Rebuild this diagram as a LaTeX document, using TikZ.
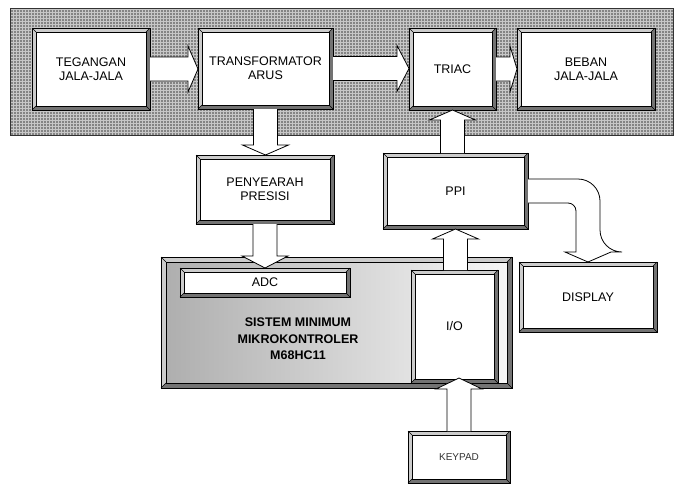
\documentclass[tikz,border=0pt]{standalone}
\usepackage{fontspec}
\setmainfont{Liberation Sans}
\usetikzlibrary{calc,patterns.meta}

\definecolor{bevlight}{gray}{0.8}
\definecolor{bevdark}{gray}{0.45}

% raised frame round a named box, #2 = frame width
\newcommand{\bevelframe}[2]{%
  \fill[bevlight] (#1.north west) -- (#1.north east) -- ($(#1.north east)+(-#2,#2)$)
    -- ($(#1.north west)+(#2,#2)$) -- ($(#1.south west)+(#2,-#2)$) -- (#1.south west) -- cycle;
  \fill[bevdark] (#1.south east) -- (#1.south west) -- ($(#1.south west)+(#2,-#2)$)
    -- ($(#1.south east)+(-#2,-#2)$) -- ($(#1.north east)+(-#2,#2)$) -- (#1.north east) -- cycle;
  \draw[bevline] (#1.north west) rectangle (#1.south east);
  \draw[bevline] ($(#1.north west)+(#2,#2)$) rectangle ($(#1.south east)+(-#2,-#2)$);
  \draw[bevline] (#1.north west) -- ++(#2,#2) (#1.north east) -- ++(-#2,#2)
    (#1.south west) -- ++(#2,-#2) (#1.south east) -- ++(-#2,-#2);
}
% block arrows: start, tip, head length
\newcommand{\arrowright}[3]{%
  \filldraw[blockarrow] ($(#1)+(0,-12)$) -- ($(#2)+(-#3,-12)$) -- ($(#2)+(-#3,-23)$) -- (#2)
    -- ($(#2)+(-#3,23)$) -- ($(#2)+(-#3,12)$) -- ($(#1)+(0,12)$);
}
\newcommand{\arrowdown}[3]{%
  \filldraw[blockarrow] ($(#1)+(-12,0)$) -- ($(#2)+(-12,-#3)$) -- ($(#2)+(-23,-#3)$) -- (#2)
    -- ($(#2)+(23,-#3)$) -- ($(#2)+(12,-#3)$) -- ($(#1)+(12,0)$);
}
\newcommand{\arrowup}[3]{%
  \filldraw[blockarrow] ($(#1)+(-12,0)$) -- ($(#2)+(-12,#3)$) -- ($(#2)+(-23,#3)$) -- (#2)
    -- ($(#2)+(23,#3)$) -- ($(#2)+(12,#3)$) -- ($(#1)+(12,0)$);
}

\begin{document}
\begin{tikzpicture}[x=1pt, y=-1pt,
    block/.style={fill=white, inner sep=0pt, outer sep=0pt, align=center, font=\fontsize{12.5}{14}\selectfont},
    bevline/.style={black, line width=0.6pt},
    blockarrow/.style={fill=white, draw=black, line width=0.8pt, line join=miter}
]
\useasboundingbox (0,0) rectangle (681,485);

% dotted panel behind the power part
\fill[black!22] (10,8) rectangle (673,135);
\fill[pattern={Dots[distance=3pt,radius=0.9pt]}, pattern color=black!75] (10,8) rectangle (673,135);
\draw[black!80, line width=0.8pt] (10,8) rectangle (673,135);

\node[block, minimum width=118pt, minimum height=82pt] (teg) at (91,69) {TEGANGAN\\JALA-JALA};
\node[block, minimum width=135pt, minimum height=81pt] (trafo) at (265.5,68.5) {TRANSFORMATOR\\ARUS};
\node[block, minimum width=87pt, minimum height=82pt] (triac) at (452.5,69) {TRIAC};
\node[block, minimum width=138pt, minimum height=82pt] (beban) at (586,69) {BEBAN\\JALA-JALA};
\node[block, minimum width=138pt, minimum height=69pt] (peny) at (265,189.5) {PENYEARAH\\PRESISI};
\node[block, minimum width=145pt, minimum height=76pt] (ppi) at (455.5,191) {PPI};
\bevelframe{teg}{4}
\bevelframe{trafo}{4}
\bevelframe{triac}{4}
\bevelframe{beban}{4}
\bevelframe{peny}{4}
\bevelframe{ppi}{4}

\node[block, left color=black!32, right color=black!3, minimum width=351pt, minimum height=131pt] (mcu) at (336.5,322.5) {};
\bevelframe{mcu}{5}
\node[block, minimum width=170pt, minimum height=29pt] (adc) at (265,282.5) {ADC};
\node[block, minimum width=87pt, minimum height=113pt] (io) at (454.5,326.5) {I/O};
\bevelframe{adc}{4}
\bevelframe{io}{4}
\node[align=center, font=\bfseries\fontsize{12.5}{16.5}\selectfont] (mcutext) at (298,339) {SISTEM MINIMUM\\MIKROKONTROLER\\M68HC11};

\node[block, minimum width=138pt, minimum height=70pt] (disp) at (588,297) {DISPLAY};
\node[block, minimum width=102pt, minimum height=52pt, font=\fontsize{10}{12}\selectfont, text=black!80] (keypad) at (459,457) {KEYPAD};
\bevelframe{disp}{4}
\bevelframe{keypad}{4}

% block arrows
\arrowright{teg.east}{teg.east -| trafo.west}{10}
\arrowright{trafo.east}{trafo.east -| triac.west}{12}
\arrowright{triac.east}{triac.east -| beban.west}{7}
\arrowdown{trafo.south}{trafo.south |- peny.north}{10}
\arrowdown{peny.south}{peny.south |- adc.north}{12}
\arrowup{ppi.north -| triac.south}{triac.south}{10}
\arrowup{io.north -| ppi.south}{ppi.south}{10}
\coordinate (kptip) at ($(keypad.north |- io.south)+(0,-5)$);
\arrowup{keypad.north}{kptip}{11}
\filldraw[blockarrow] ($(ppi.east)+(0,-12)$) [rounded corners=22pt] -| ($(disp.north)+(12,-10)$)
  [sharp corners] -- ++(11,0) -- (disp.north) -- ($(disp.north)+(-23,-10)$) -- ++(11,0)
  [rounded corners=8pt] |- ($(ppi.east)+(0,12)$);
\end{tikzpicture}
\end{document}
